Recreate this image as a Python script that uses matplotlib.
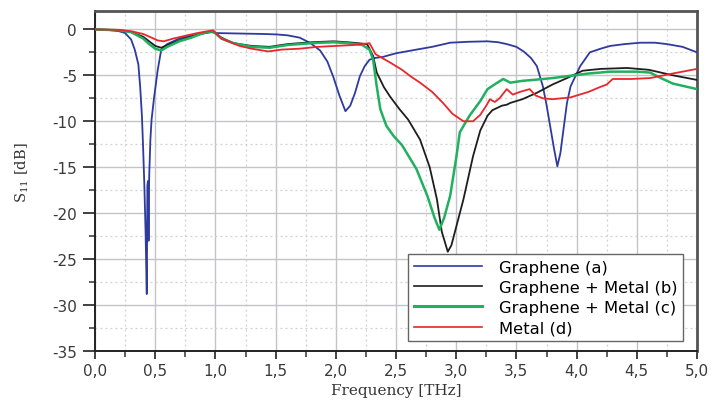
import matplotlib
matplotlib.use("Agg")
import matplotlib.pyplot as plt
from matplotlib.ticker import MultipleLocator

# ---- data ----
freq_a = [0, 0.1, 0.2, 0.25, 0.3, 0.33, 0.36, 0.375, 0.39, 0.40, 0.41, 0.42, 0.43, 0.435,
          0.44, 0.445, 0.45, 0.46, 0.47, 0.49, 0.52, 0.55, 0.6, 0.7, 0.8, 0.9, 0.97, 1.0,
          1.2, 1.4, 1.51, 1.6, 1.7, 1.79, 1.87, 1.93, 1.98, 2.03, 2.08, 2.12, 2.16, 2.2,
          2.24, 2.28, 2.33, 2.39, 2.5, 2.67, 2.8, 2.95, 3.1, 3.26, 3.35, 3.42, 3.5, 3.56,
          3.62, 3.67, 3.72, 3.75, 3.78, 3.81, 3.84, 3.865, 3.89, 3.92, 3.95, 4.03, 4.11,
          4.2, 4.28, 4.4, 4.53, 4.65, 4.75, 4.88, 5.0]
s11_a = [0, -0.05, -0.2, -0.4, -1.1, -2.2, -3.8, -6.2, -9.5, -13.0, -17.0, -22.0, -28.8, -17.0,
         -16.5, -23.0, -16.0, -12.0, -9.8, -7.5, -4.5, -2.2, -1.6, -1.0, -0.7, -0.45, -0.3, -0.4,
         -0.45, -0.5, -0.55, -0.65, -0.9, -1.5, -2.3, -3.5, -5.2, -7.2, -8.9, -8.3, -6.9, -5.1,
         -4.0, -3.3, -3.1, -3.0, -2.6, -2.2, -1.9, -1.45, -1.35, -1.3, -1.4, -1.6, -1.9, -2.4,
         -3.1, -4.0, -6.2, -8.2, -10.5, -12.8, -14.9, -13.5, -11.0, -8.0, -6.2, -4.0, -2.5,
         -2.1, -1.8, -1.6, -1.45, -1.45, -1.6, -1.9, -2.5]

freq_b = [0, 0.2, 0.3, 0.4, 0.45, 0.5, 0.55, 0.6, 0.7, 0.8, 0.9, 0.98, 1.05, 1.15, 1.3, 1.45,
          1.6, 1.8, 1.98, 2.1, 2.26, 2.31, 2.34, 2.4, 2.45, 2.53, 2.6, 2.7, 2.78, 2.84, 2.88,
          2.93, 2.96, 3.0, 3.06, 3.14, 3.2, 3.26, 3.3, 3.38, 3.42, 3.45, 3.55, 3.67, 3.8,
          3.92, 4.05, 4.2, 4.42, 4.6, 4.8, 5.0]
s11_b = [0, -0.1, -0.3, -0.8, -1.3, -1.8, -2.0, -1.7, -1.2, -0.8, -0.4, -0.2, -0.9, -1.5, -1.8,
         -1.9, -1.6, -1.4, -1.3, -1.4, -1.6, -2.9, -4.7, -6.3, -7.3, -8.7, -9.8, -12.0, -15.0,
         -18.5, -22.0, -24.2, -23.5, -21.5, -18.5, -13.8, -11.0, -9.4, -8.8, -8.3, -8.2, -8.0,
         -7.6, -6.9, -6.0, -5.3, -4.5, -4.3, -4.2, -4.4, -5.0, -5.5]

freq_c = [0, 0.2, 0.3, 0.4, 0.45, 0.5, 0.55, 0.6, 0.7, 0.8, 0.9, 0.98, 1.05, 1.15, 1.3, 1.45,
          1.6, 1.8, 1.98, 2.1, 2.22, 2.28, 2.31, 2.34, 2.37, 2.42, 2.48, 2.55, 2.67, 2.76, 2.82,
          2.86, 2.9, 2.95, 3.0, 3.03, 3.11, 3.2, 3.26, 3.33, 3.39, 3.45, 3.55, 3.64, 3.8, 3.92,
          4.1, 4.28, 4.5, 4.61, 4.7, 4.8, 4.9, 5.0]
s11_c = [0, -0.1, -0.3, -1.0, -1.6, -2.1, -2.3, -1.9, -1.3, -0.9, -0.4, -0.2, -1.0, -1.5, -1.9,
         -2.0, -1.7, -1.5, -1.4, -1.5, -1.7, -2.2, -3.3, -6.2, -8.7, -10.5, -11.6, -12.6, -15.2,
         -18.1, -20.5, -21.8, -20.5, -18.1, -14.0, -11.2, -9.4, -7.8, -6.5, -5.9, -5.4, -5.8,
         -5.6, -5.5, -5.3, -5.1, -4.8, -4.6, -4.6, -4.7, -5.3, -5.9, -6.2, -6.5]

freq_d = [0, 0.2, 0.3, 0.4, 0.47, 0.52, 0.57, 0.65, 0.75, 0.85, 0.98, 1.05, 1.2, 1.3, 1.44,
          1.55, 1.7, 1.85, 2.0, 2.15, 2.28, 2.33, 2.45, 2.55, 2.62, 2.7, 2.8, 2.89, 2.97, 3.06,
          3.14, 3.2, 3.25, 3.28, 3.32, 3.36, 3.42, 3.47, 3.53, 3.61, 3.66, 3.72, 3.8, 3.95,
          4.1, 4.19, 4.25, 4.3, 4.45, 4.61, 4.8, 5.0]
s11_d = [0, -0.05, -0.2, -0.5, -0.9, -1.2, -1.3, -1.0, -0.7, -0.4, -0.1, -1.0, -1.8, -2.1, -2.4,
         -2.2, -2.1, -1.9, -1.8, -1.7, -1.5, -2.7, -3.6, -4.4, -5.1, -5.8, -6.8, -8.0, -9.2,
         -10.0, -10.0, -9.3, -8.3, -7.6, -7.9, -7.5, -6.5, -7.1, -6.8, -6.5, -7.2, -7.5, -7.6,
         -7.4, -6.8, -6.3, -6.0, -5.4, -5.4, -5.3, -4.8, -4.3]

series_labels = ["Graphene (a)", "Graphene + Metal (b)", "Graphene + Metal (c)", "Metal (d)"]

x_ticks = [0, 0.5, 1.0, 1.5, 2.0, 2.5, 3.0, 3.5, 4.0, 4.5, 5.0]
x_tick_labels = ["0,0", "0,5", "1,0", "1,5", "2,0", "2,5", "3,0", "3,5", "4,0", "4,5", "5,0"]
y_ticks = [-35, -30, -25, -20, -15, -10, -5, 0]
y_tick_labels = ["-35", "-30", "-25", "-20", "-15", "-10", "-5", "0"]

# ---- figure ----
plt.rcParams['font.family'] = ['DejaVu Sans']
plt.rcParams['mathtext.fontset'] = 'dejavuserif'

fig = plt.figure(figsize=(7.12, 4.02), dpi=100)
ax = fig.add_axes([95/712, 50/402, 602/712, 340/402])

ax.plot(freq_a, s11_a, color='#2e3a9e', lw=1.3, label=series_labels[0], zorder=3)
ax.plot(freq_b, s11_b, color='#1e1e1e', lw=1.3, label=series_labels[1], zorder=3)
ax.plot(freq_c, s11_c, color='#20b060', lw=1.8, label=series_labels[2], zorder=3)
ax.plot(freq_d, s11_d, color='#e8272b', lw=1.3, label=series_labels[3], zorder=3)

ax.set_xlim(0, 5)
ax.set_ylim(-35, 2)
ax.set_xticks(x_ticks)
ax.set_xticklabels(x_tick_labels)
ax.set_yticks(y_ticks)
ax.set_yticklabels(y_tick_labels)
ax.xaxis.set_minor_locator(MultipleLocator(0.25))
ax.yaxis.set_minor_locator(MultipleLocator(2.5))

ax.grid(which='major', color='#c4c4c8', lw=1.0, ls='-', zorder=0)
ax.grid(which='minor', color='#cfcfd4', lw=0.9, ls=(0, (1.5, 2.5)), zorder=0)

ax.tick_params(which='major', direction='out', length=6, width=1.3, labelsize=11,
               colors='#333333', labelcolor='#3a3a3a')
ax.tick_params(axis='y', which='major', length=9, pad=4)
ax.tick_params(which='minor', direction='out', length=4, width=1.1, colors='#333333')
ax.tick_params(axis='x', pad=3)

for s in ['left', 'bottom']:
    ax.spines[s].set_color('#222222')
    ax.spines[s].set_linewidth(1.4)
for s in ['top', 'right']:
    ax.spines[s].set_color('#555555')
    ax.spines[s].set_linewidth(2.0)

ax.set_xlabel("Frequency [THz]", family='DejaVu Serif', fontsize=11, color='#333333')
ax.xaxis.set_label_coords(0.5, -32 / 340)
ax.set_ylabel("S$_{11}$ [dB]", family='DejaVu Serif', fontsize=10.5, color='#333333')
ax.yaxis.set_label_coords(-64 / 602, 0.526)

leg = ax.legend(loc='lower right', bbox_to_anchor=(0.977, 0.029), borderaxespad=0,
                fancybox=False, framealpha=1, edgecolor='#666666', fontsize=11.8,
                handlelength=4.2, borderpad=0.35, labelspacing=0.32, handletextpad=1.0)
leg.get_frame().set_linewidth(1.0)
for line in leg.get_lines():
    line.set_linewidth(1.2)
leg.get_lines()[2].set_linewidth(2.2)

fig.savefig("out.png", dpi=100)
